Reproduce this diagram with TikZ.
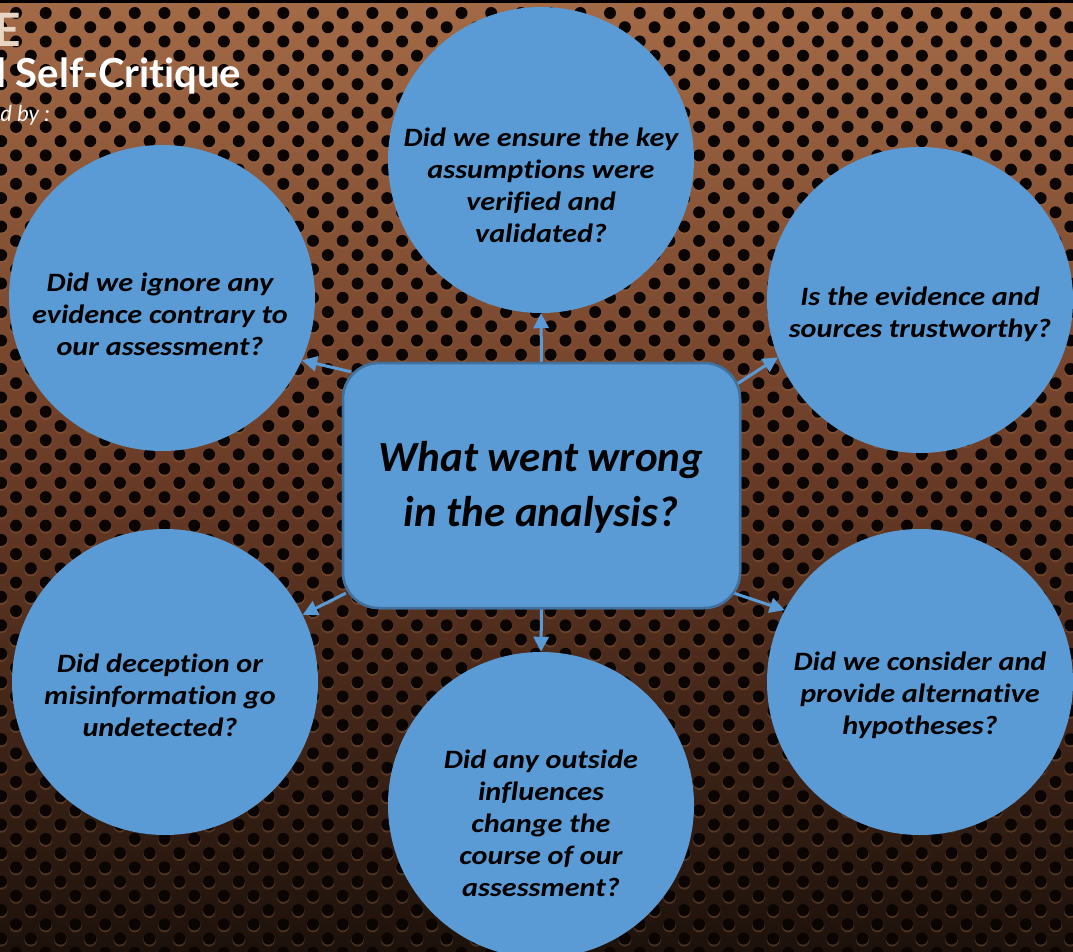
\documentclass[tikz,border=0pt]{standalone}
\usepackage{fontspec}
\setmainfont{Carlito}[Ligatures=NoCommon]
\newfontfamily\bubblefont{Carlito}[FakeStretch=1.14, Ligatures=NoCommon]
\newfontfamily\headfont{Lato}[Ligatures={NoCommon,NoRequired,NoContextual}]
\usetikzlibrary{arrows.meta,calc}

\definecolor{bubble}{HTML}{5B9BD5}
\definecolor{bubbleedge}{HTML}{41719C}
\definecolor{metaltop}{HTML}{A36A46}
\definecolor{metalmid}{HTML}{693B26}
\definecolor{metalbot}{HTML}{1C110B}
\definecolor{holecol}{HTML}{0A0503}
\definecolor{rimcol}{HTML}{9A6A48}
\definecolor{beige}{HTML}{E8D6C3}

\tikzset{
  question/.style={circle, fill=bubble, minimum size=306pt, inner sep=0pt},
  qtext/.style={align=center, font=\bubblefont\bfseries\itshape\fontsize{26.5}{32}\selectfont, text=black},
  hub/.style={rectangle, rounded corners=36pt, fill=bubble, draw=bubbleedge,
    line width=2.5pt, minimum width=397pt, minimum height=245pt},
  link/.style={draw=bubble, line width=3pt, -{Triangle[length=15pt,width=15pt]}},
}

\begin{document}
\begin{tikzpicture}[x=1pt,y=-1pt]
\useasboundingbox (0,0) rectangle (1073,952);
\clip (0,0) rectangle (1073,952);

% perforated metal backdrop
\shade[top color=metaltop, bottom color=metalbot, middle color=metalmid]
  (0,0) rectangle (1073,952);
\foreach \j in {0,...,66} {
  \pgfmathsetmacro{\rowy}{13+14.24*\j}
  \pgfmathsetmacro{\rowx}{16+14.85*mod(\j,2)}
  \fill[rimcol, opacity=0.35]
    \foreach \i in {-1,...,36} {({\rowx+29.7*\i}, {\rowy+1.6}) circle (6.4pt)};
  \fill[holecol]
    \foreach \i in {-1,...,36} {({\rowx+29.7*\i}, {\rowy}) circle (6pt)};
}
\fill[black] (0,0) rectangle (1073,3);

% heading fragments at the top-left
\node[anchor=base east, inner sep=0pt, text=beige, font=\headfont\bfseries\fontsize{46}{46}\selectfont] (h1) at (21,47) {E};
\node[anchor=base west, inner sep=0pt, text=white, font=\headfont\bfseries\fontsize{40}{40}\selectfont] (h2) at (-4,88) {l Self-Crit\kern0pt ique};
\node[anchor=base east, inner sep=0pt, text=white!85!beige, font=\headfont\itshape\fontsize{22}{22}\selectfont] (h3) at (50,122) {d by :};

% hub
\node[hub] (c) at (541.5,485.5) {};

% question bubbles
\node[question] (t)  at (541,160) {};
\node[question] (ul) at (162,298) {};
\node[question] (ur) at (920,300) {};
\node[question] (ll) at (165,682) {};
\node[question] (lr) at (920,682) {};
\node[question] (b)  at (541,805) {};

% connectors (drawn under the hub so they start at its edge)
\coordinate (sul) at ($(c.north west)+(9,10)$);
\coordinate (sur) at ($(c.north east)+(-7,24)$);
\coordinate (sll) at ($(c.south west)+(4,-16)$);
\coordinate (slr) at ($(c.south east)+(-7,-16)$);
\draw[link] (c.north) -- (t.south);
\draw[link] (c.south) -- (b.north);
\draw[link] (sul) -- (ul.336);
\draw[link] (sur) -- (ur.202.2);
\draw[link] (sll) -- (ll.26);
\draw[link] (slr) -- (lr.152.1);

% hub redrawn on top of the connector starts
\node[hub] (c2) at (c) {};
\node[align=center, font=\bfseries\itshape\fontsize{43}{55}\selectfont] (ctext) at (541,487)
  {What went wrong\\in the analysis?};

% bubble texts
\node[qtext] (tt)  at (541,185) {Did we ensure the key\\assumpt\kern0pt ions were\\verified and\\validated?};
\node[qtext] (ult) at (160,314) {Did we ignore any\\evidence contrary to\\our assessment?};
\node[qtext] (urt) at (920,314) {Is the evidence and\\sources trustworthy?};
\node[qtext] (llt) at (160,695) {Did deception or\\misinformat\kern0pt ion go\\undetected?};
\node[qtext] (lrt) at (920,695) {Did we consider and\\provide alternative\\hypotheses?};
\node[qtext] (bt)  at (541,823) {Did any outside\\influences\\change the\\course of our\\assessment?};
\end{tikzpicture}
\end{document}
